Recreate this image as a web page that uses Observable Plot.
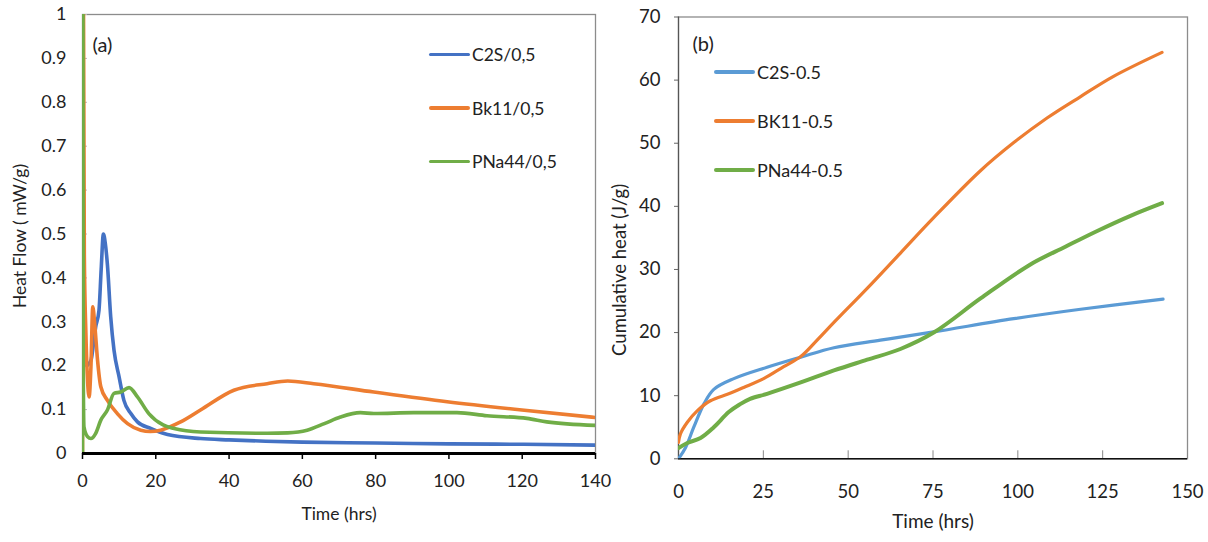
<!DOCTYPE html>
<html>
<head>
<meta charset="utf-8">
<script src="https://cdn.jsdelivr.net/npm/d3@7"></script>
<script src="https://cdn.jsdelivr.net/npm/@observablehq/plot@0.6"></script>
<style>
  html, body { margin: 0; padding: 0; background: #fff; }
  #wrap { position: relative; width: 1208px; height: 542px; overflow: hidden; font-family: Lato, "Open Sans", sans-serif; color: #222; }
  .panel { position: absolute; top: 0; }
  .leg { position: absolute; display: flex; align-items: center; white-space: nowrap; }
  .leg .sw { display: inline-block; margin-right: 2px; border-radius: 2px; }
</style>
</head>
<body>
<div id="wrap"></div>
<script>
// ---------- Panel (a): heat flow (mW/g) vs time (hrs) ----------
const seriesA = ["C2S/0,5", "Bk11/0,5", "PNa44/0,5"];
const colorsA = ["#4472C4", "#ED7D31", "#70AD47"];

const c2sA_t = [1.2, 1.8, 2.4, 3.0, 3.6, 4.5, 5.1, 5.7, 6.2, 6.8, 7.7, 8.6, 10, 11.3, 13.2, 15, 18.6, 23.2, 32.2, 40, 50, 60, 80, 100, 120, 140];
const c2sA_v = [0.20, 0.205, 0.215, 0.25, 0.288, 0.326, 0.42, 0.50, 0.48, 0.43, 0.311, 0.235, 0.174, 0.121, 0.091, 0.072, 0.057, 0.043, 0.034, 0.031, 0.028, 0.026, 0.024, 0.022, 0.021, 0.019];

const bk11A_t = [0, 0.05, 0.5, 0.9, 1.3, 1.8, 2.3, 2.8, 3.4, 4.1, 5, 6.8, 9.5, 12.3, 15.9, 18.5, 21.3, 26.8, 32.2, 41.3, 50.4, 56, 63.1, 79.5, 99.5, 119.9, 140];
const bk11A_v = [0, 1.5, 0.45, 0.281, 0.18, 0.129, 0.197, 0.334, 0.288, 0.213, 0.152, 0.121, 0.091, 0.068, 0.053, 0.050, 0.053, 0.072, 0.099, 0.144, 0.159, 0.165, 0.159, 0.140, 0.118, 0.099, 0.082];

const pna44A_t = [0, 0.03, 0.2, 0.4, 1.4, 2.3, 3.6, 5, 6.8, 8.6, 10.4, 12.7, 15, 18.1, 22, 25, 32.2, 50.4, 56, 61.3, 66, 70.4, 75.8, 79.5, 90.4, 102.2, 110.4, 121.3, 126.7, 140];
const pna44A_v = [0, 2, 0.2, 0.061, 0.038, 0.034, 0.046, 0.076, 0.099, 0.137, 0.140, 0.150, 0.129, 0.091, 0.065, 0.057, 0.049, 0.046, 0.047, 0.053, 0.068, 0.083, 0.093, 0.091, 0.093, 0.093, 0.086, 0.080, 0.072, 0.064];

const xTicksA = [0, 20, 40, 60, 80, 100, 120, 140];
const yTicksA = [0, 0.1, 0.2, 0.3, 0.4, 0.5, 0.6, 0.7, 0.8, 0.9, 1];
const yTickLabelsA = ["0", "0.1", "0.2", "0.3", "0.4", "0.5", "0.6", "0.7", "0.8", "0.9", "1"];

// ---------- Panel (b): cumulative heat (J/g) vs time (hrs) ----------
const seriesB = ["C2S-0.5", "BK11-0.5", "PNa44-0.5"];
const colorsB = ["#5B9BD5", "#ED7D31", "#70AD47"];

const c2sB_t = [0, 2.1, 4.5, 7.5, 10.4, 16.3, 26.1, 36, 45.8, 59.5, 75.2, 98.8, 118.5, 142.8];
const c2sB_v = [0, 1.8, 5.0, 8.7, 11.0, 12.7, 14.5, 16.1, 17.6, 18.8, 20.1, 22.2, 23.7, 25.3];

const bk11B_t = [0, 0.6, 2.6, 5.5, 9.4, 14.8, 19.2, 25.1, 31, 36, 40.5, 45.8, 55.6, 65.4, 75.2, 88.9, 98.8, 108.6, 118.5, 128.2, 142.5];
const bk11B_v = [2.6, 4.0, 5.8, 7.6, 9.2, 10.3, 11.3, 12.7, 14.6, 16.2, 18.6, 21.6, 27.0, 32.6, 38.2, 45.6, 50.1, 54.0, 57.4, 60.6, 64.4];

const pna44B_t = [0, 2.6, 6.5, 10.4, 14.8, 18, 21.1, 26.1, 36, 45.8, 55.6, 65.4, 75.2, 89, 103.7, 114, 123.4, 133.2, 142.5];
const pna44B_v = [1.7, 2.5, 3.3, 5.0, 7.4, 8.6, 9.5, 10.3, 12.1, 14.0, 15.7, 17.4, 20.0, 25.4, 30.8, 33.6, 36.1, 38.5, 40.5];

const xTicksB = [0, 25, 50, 75, 100, 125, 150];
const yTicksB = [0, 10, 20, 30, 40, 50, 60, 70];

// ---------- build tables ----------
function rows(series, t, v) { return t.map((x, i) => ({series, t: x, v: v[i]})); }
const dataA = [
  ...rows(seriesA[0], c2sA_t, c2sA_v),
  ...rows(seriesA[1], bk11A_t, bk11A_v),
  ...rows(seriesA[2], pna44A_t, pna44A_v)
];
const dataB = [
  ...rows(seriesB[0], c2sB_t, c2sB_v),
  ...rows(seriesB[1], bk11B_t, bk11B_v),
  ...rows(seriesB[2], pna44B_t, pna44B_v)
];

const FONT = "Lato, 'Open Sans', sans-serif";

const plotA = Plot.plot({
  width: 604, height: 542,
  marginLeft: 82, marginRight: 9, marginTop: 14, marginBottom: 89,
  x: {domain: [0, 140]},
  y: {domain: [0, 1]},
  color: {domain: seriesA, range: colorsA},
  style: {fontFamily: FONT, fontSize: "18px", color: "#222", background: "transparent", overflow: "visible"},
  marks: [
    Plot.frame({stroke: "#8c8c8c", strokeWidth: 1.3}),
    Plot.axisY({ticks: yTicksA, tickSize: -5, stroke: "#b8b8b8", tickFormat: () => "", label: null}),
    Plot.axisY({ticks: yTicksA, tickSize: 0, tickPadding: 16, tickFormat: d => yTickLabelsA[yTicksA.indexOf(d)], label: null, fill: "#222"}),
    Plot.axisX({ticks: xTicksA, tickSize: 6, tickPadding: 15, stroke: "#000", strokeWidth: 1.5, tickFormat: d => String(d), label: null, fill: "#222"}),
    Plot.line(dataA, {x: "t", y: "v", z: "series", stroke: "series", strokeWidth: 3.6, curve: "monotone-x", clip: true}),
    Plot.ruleY([0], {stroke: "#000", strokeWidth: 3}),
    Plot.text(["Time (hrs)"], {frameAnchor: "bottom", dy: 66, textAnchor: "middle", fontSize: 17.5, fill: "#222"}),
    Plot.text(["Heat Flow ( mW/g)"], {frameAnchor: "left", dx: -62, dy: 2, textAnchor: "middle", rotate: -90, fontSize: 17.5, fill: "#222"}),
    Plot.text(["(a)"], {frameAnchor: "top-left", dx: 10, dy: 23, textAnchor: "start", fontSize: 20, fill: "#222"})
  ]
});

const plotB = Plot.plot({
  width: 604, height: 542,
  marginLeft: 74, marginRight: 21, marginTop: 16.5, marginBottom: 83.7,
  x: {domain: [0, 150]},
  y: {domain: [0, 70]},
  color: {domain: seriesB, range: colorsB},
  style: {fontFamily: FONT, fontSize: "18.5px", color: "#222", background: "transparent", overflow: "visible"},
  marks: [
    Plot.frame({stroke: "#8c8c8c", strokeWidth: 1.3}),
    Plot.axisY({ticks: yTicksB, tickSize: 4, stroke: "#666", tickFormat: () => "", label: null}),
    Plot.axisY({ticks: yTicksB, tickSize: 0, tickPadding: 18, tickFormat: d => String(d), label: null, fill: "#222"}),
    Plot.axisX({ticks: xTicksB, tickSize: -8, stroke: "#888", tickFormat: () => "", label: null}),
    Plot.axisX({ticks: xTicksB, tickSize: 0, tickPadding: 26, tickFormat: d => String(d), label: null, fill: "#222"}),
    Plot.ruleX([0], {stroke: "#555", strokeWidth: 1.2}),
    Plot.ruleY([0], {stroke: "#111", strokeWidth: 1.6}),
    Plot.line(dataB, {x: "t", y: "v", z: "series", stroke: "series", strokeWidth: d => d.series === seriesB[2] ? 4 : 3.2, curve: "catmull-rom", clip: true}),
    Plot.text(["Time (hrs)"], {frameAnchor: "bottom", dy: 69, textAnchor: "middle", fontSize: 19, fill: "#222"}),
    Plot.text(["Cumulative heat (J/g)"], {frameAnchor: "left", dx: -58, dy: 32, textAnchor: "middle", rotate: -90, fontSize: 18.5, fill: "#222"}),
    Plot.text(["(b)"], {frameAnchor: "top-left", dx: 14, dy: 20, textAnchor: "start", fontSize: 20, fill: "#222"})
  ]
});

const wrap = document.getElementById("wrap");
plotA.classList.add("panel"); plotA.style.left = "0px";
plotB.classList.add("panel"); plotB.style.left = "604px";
wrap.appendChild(plotA);
wrap.appendChild(plotB);

// legends
function legend(names, colors, x, ys, swW, swH, fs) {
  names.forEach((n, i) => {
    const d = document.createElement("div");
    d.className = "leg";
    d.style.left = x + "px";
    d.style.top = (ys[i] - 12) + "px";
    d.style.height = "24px";
    d.style.fontSize = fs + "px";
    const sw = document.createElement("span");
    sw.className = "sw";
    sw.style.width = swW + "px";
    sw.style.height = swH + "px";
    sw.style.background = colors[i];
    d.appendChild(sw);
    d.appendChild(document.createTextNode(n));
    wrap.appendChild(d);
  });
}
legend(seriesA, colorsA, 429, [54.5, 108, 161.5], 41, 3.6, 17.5);
legend(seriesB, colorsB, 714, [72, 121, 170], 41, 3.6, 18);
</script>
</body>
</html>
